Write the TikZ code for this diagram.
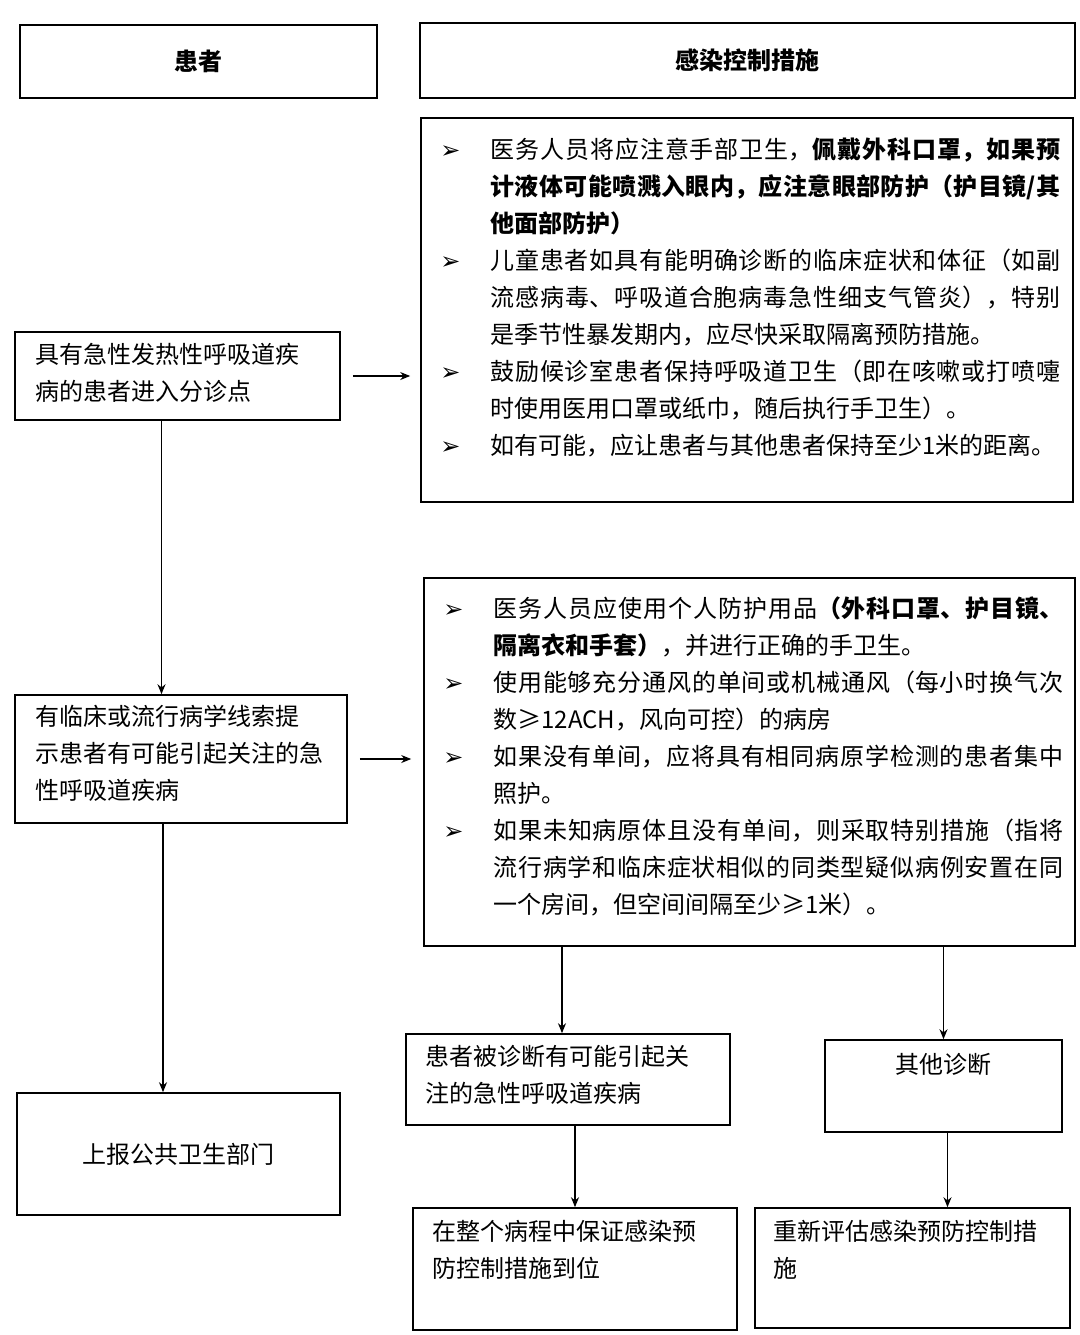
\documentclass[tikz,border=0pt]{standalone}
\usepackage{fontspec}
\setmainfont{Noto Sans CJK SC}
\newfontfamily\symfont{DejaVu Sans}
\XeTeXlinebreaklocale "zh"
\XeTeXlinebreakskip=0pt plus 1pt
\usetikzlibrary{arrows.meta}
\newcommand{\itm}{\par\hangindent=25pt\hangafter=1\noindent\makebox[25pt][l]{\symfont ➢}}
\tikzset{
  box/.style={draw, line width=0.8pt},
  txt/.style={font=\fontsize{12pt}{18.5pt}\selectfont, align=left, inner sep=0pt},
  blist/.style={txt, anchor=north west, text width=310pt, align=justify},
  arr/.style={-{Stealth[length=5pt,width=4pt]}, line width=0.6pt}
}
\begin{document}
\begin{tikzpicture}[x=0.5pt,y=-0.5pt]
\useasboundingbox (0,0) rectangle (1080,1335);

% headers
\node[box, minimum width=178.5pt, minimum height=36.5pt, font=\fontsize{12pt}{14pt}\selectfont] (h1) at (198.5,61.5) {\textbf{患者}};
\node[box, minimum width=327.5pt, minimum height=37.5pt, font=\fontsize{12pt}{14pt}\selectfont] (h2) at (747.5,60.5) {\textbf{感染控制措施}};

% measure boxes
\node[box, minimum width=326pt, minimum height=192pt] (m1) at (747,310) {};
\node[box, minimum width=325.5pt, minimum height=184pt] (m2) at (749.5,762) {};
\node[blist] (t1) at (440,121) {%
\itm 医务人员将应注意手部卫生，\textbf{佩戴外科口罩，如果预计液体可能喷溅入眼内，应注意眼部防护（护目镜/其他面部防护）}
\itm 儿童患者如具有能明确诊断的临床症状和体征（如副流感病毒、呼吸道合胞病毒急性细支气管炎），特别是季节性暴发期内，应尽快采取隔离预防措施。
\itm 鼓励候诊室患者保持呼吸道卫生（即在咳嗽或打喷嚏时使用医用口罩或纸巾，随后执行手卫生）。
\itm 如有可能，应让患者与其他患者保持至少1米的距离。\par};
\node[blist] (t2) at (443,580) {%
\itm 医务人员应使用个人防护用品\textbf{（外科口罩、护目镜、隔离衣和手套）}，并进行正确的手卫生。
\itm 使用能够充分通风的单间或机械通风（每小时换气次数≥12ACH，风向可控）的病房
\itm 如果没有单间，应将具有相同病原学检测的患者集中照护。
\itm 如果未知病原体且没有单间，则采取特别措施（指将流行病学和临床症状相似的同类型疑似病例安置在同一个房间，但空间间隔至少≥1米）。\par};

% patient boxes
\node[box, minimum width=162.5pt, minimum height=44pt] (p1) at (177.5,376) {};
\node[txt, anchor=north west] at (35,343) {具有急性发热性呼吸道疾\\病的患者进入分诊点};
\node[box, minimum width=166pt, minimum height=64pt] (p2) at (181,759) {};
\node[txt, anchor=north west] at (35,705) {有临床或流行病学线索提\\示患者有可能引起关注的急\\性呼吸道疾病};
\node[box, minimum width=161.5pt, minimum height=61pt, font=\fontsize{12pt}{18.5pt}\selectfont] (rep) at (178.5,1154) {上报公共卫生部门};

% outcome boxes
\node[box, minimum width=162pt, minimum height=45.5pt] (d1) at (568,1079.5) {};
\node[txt, anchor=north west] at (425,1045) {患者被诊断有可能引起关\\注的急性呼吸道疾病};
\node[box, minimum width=118.5pt, minimum height=46pt] (d2) at (943.5,1086) {};
\node[txt, anchor=north] at (943.5,1053) {其他诊断};
\node[box, minimum width=162pt, minimum height=61pt] (b1) at (575,1269) {};
\node[txt, anchor=north west] at (432,1220) {在整个病程中保证感染预\\防控制措施到位};
\node[box, minimum width=157.5pt, minimum height=60pt] (b2) at (912.5,1268) {};
\node[txt, anchor=north west] at (773,1220) {重新评估感染预防控制措\\施};

% arrows
\draw[arr] ([xshift=-8pt]p1.south) -- ([xshift=-8pt]p1.south |- p2.north);
\draw[arr] ([xshift=-9pt]p2.south) -- ([xshift=-9pt]p2.south |- rep.north);
\draw[arr] ([xshift=6pt]p1.east) -- ([xshift=-5pt]p1.east -| m1.west);
\draw[arr] ([xshift=6pt]p2.east) -- ([xshift=-6pt]p2.east -| m2.west);
\draw[arr] ([xshift=-3pt]d1.north |- m2.south) -- ([xshift=-3pt]d1.north);
\draw[arr] (d2.north |- m2.south) -- (d2.north);
\draw[arr] (d1.south -| b1.north) -- (b1.north);
\draw[arr] ([xshift=2pt]d2.south) -- ([xshift=2pt]d2.south |- b2.north);
\end{tikzpicture}
\end{document}
